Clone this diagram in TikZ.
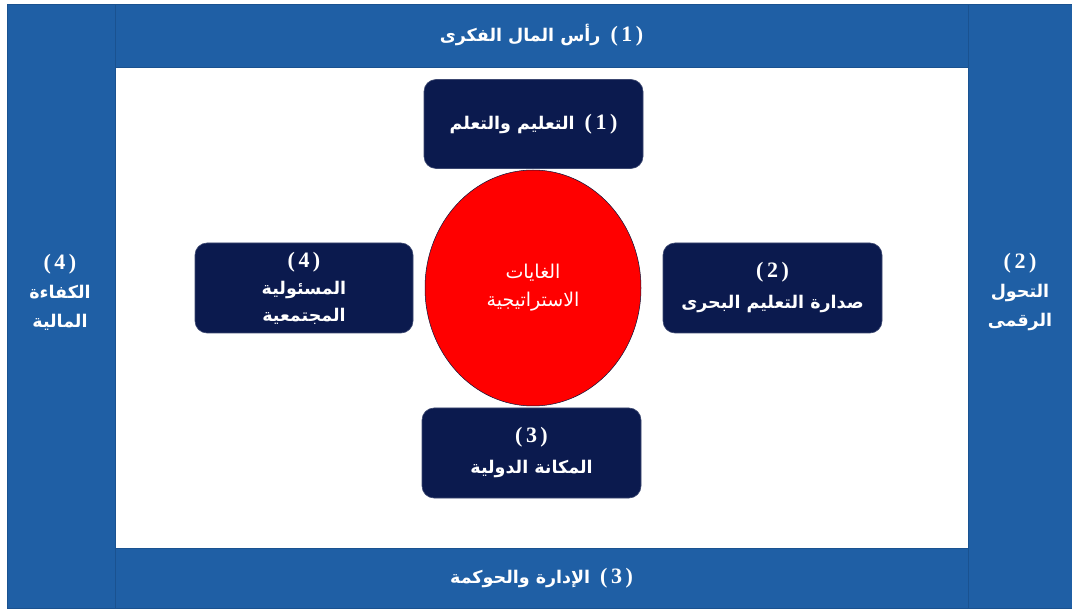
\documentclass[tikz,border=0pt]{standalone}
\usepackage{fontspec}
\usetikzlibrary{shapes.geometric}
\TeXXeTstate=1
\newfontfamily\arfont[Script=Arabic]{DejaVu Sans}
\newfontfamily\numfont{Liberation Serif}
\newcommand{\AR}[1]{{\fontsize{17.5}{28}\arfont\bfseries\beginR #1\endR}}
\newcommand{\NUM}[1]{{\fontsize{22}{28}\numfont\bfseries (\kern3.5pt#1\kern3.5pt)}}
\definecolor{bandblue}{HTML}{1F5FA5}
\definecolor{bandline}{HTML}{1A5290}
\definecolor{navy}{HTML}{0B1A4E}
\definecolor{goalred}{HTML}{FF0000}
\tikzset{
  panel/.style={rectangle, fill=bandblue, draw=bandline, line width=0.6pt, text=white, align=center, inner sep=0pt, font=\fontsize{17.5}{28}\selectfont},
  paneltext/.style={text=white, align=center, inner sep=0pt, font=\fontsize{17.5}{29}\selectfont},
  goalbox/.style={rectangle, rounded corners=12pt, fill=navy, draw=navy!80!white, line width=0.6pt, text=white, align=center, minimum width=219pt, minimum height=89pt, inner sep=0pt, font=\fontsize{17.5}{29}\selectfont},
  goal/.style={ellipse, fill=goalred, draw=navy!70!black, line width=0.5pt, text=white, align=center, minimum width=216pt, minimum height=236pt, inner sep=0pt, font=\fontsize{19}{28}\selectfont}
}
\begin{document}
\begin{tikzpicture}[x=1pt,y=-1pt]
\useasboundingbox (0,0) rectangle (1072,612);
\fill[white] (0,0) rectangle (1072,612);
\node (left) [panel, minimum width=108pt, minimum height=604pt] at (61,306) {};
\node (right) [panel, minimum width=104pt, minimum height=604pt] at (1020,306) {};
\node (top) [panel, minimum width=853pt, minimum height=63pt] at (541.5,35.5) {\AR{رأس المال الفكرى}\kern10pt\NUM{1}};
\node (bottom) [panel, minimum width=853pt, minimum height=60pt] at (541.5,578) {\AR{الإدارة والحوكمة}\kern10pt\NUM{3}};
\node (lefttext) [paneltext] at (60,292) {\NUM{4}\\\AR{الكفاءة}\\\AR{المالية}};
\node (righttext) [paneltext] at (1020,292) {\NUM{2}\\\AR{التحول}\\\AR{الرقمى}};
\node (c) [goal] at (533,288) {{\arfont\beginR الغايات\endR}\\{\arfont\beginR الاستراتيجية\endR}};
\node (g1) [goalbox] at (533.5,124) {\AR{التعليم والتعلم}\kern10pt\NUM{1}};
\node (g4) [goalbox, minimum width=218pt, minimum height=90pt, font=\fontsize{17.5}{27}\selectfont] at (304,288) {\NUM{4}\\\AR{المسئولية}\\\AR{المجتمعية}};
\node (g2) [goalbox, minimum height=90pt, font=\fontsize{17.5}{31}\selectfont] at (772.5,288) {\NUM{2}\\\AR{صدارة التعليم البحرى}};
\node (g3) [goalbox, minimum height=90pt, font=\fontsize{17.5}{31}\selectfont] at (531.5,453) {\NUM{3}\\\AR{المكانة الدولية}};
\end{tikzpicture}
\end{document}
